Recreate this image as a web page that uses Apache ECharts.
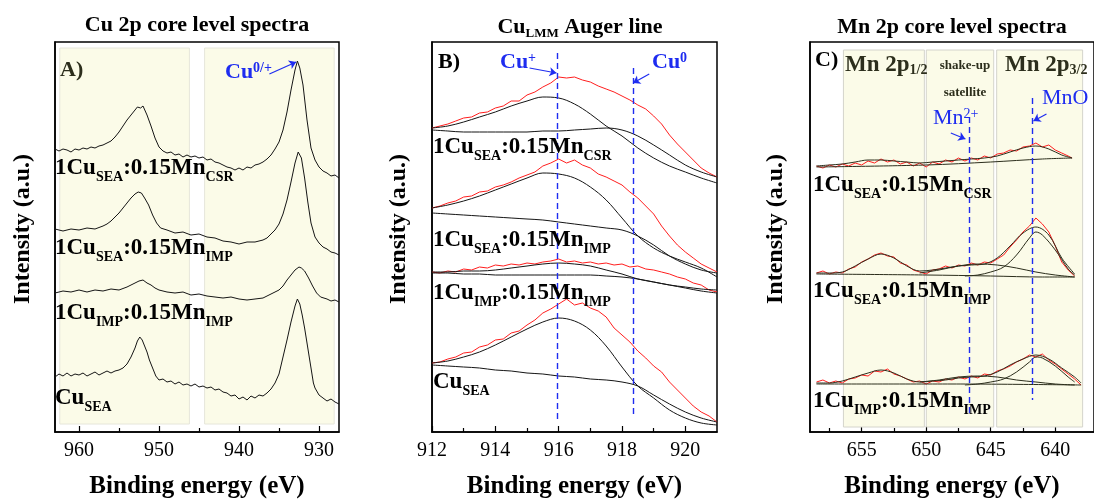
<!DOCTYPE html>
<html><head><meta charset="utf-8">
<script src="https://cdn.jsdelivr.net/npm/echarts@6/dist/echarts.min.js"></script>
<style>html,body{margin:0;padding:0;background:#fff}#c{width:1094px;height:504px}</style>
</head><body><div id="c"></div>
<script>
// ---------- Panel A: Cu 2p (binding energy eV, intensity a.u.) ----------
const A_CSR = [[963,283],[962.5,281],[962,283],[961.5,282],[961,280],[960.5,283],[960,282],[959.5,284],[959,283],[958.5,285],[958,284],[957.5,286],[957,287],[956.5,289],[956,291],[955.5,295],[955,300],[954.5,306],[954,312],[953.5,317],[953,322],[952.7,325],[952.3,324],[952,326],[951.5,317],[951,306],[950.5,294],[950,285],[949.5,281],[949,279],[948.5,280],[948,277],[947.5,278],[947,275],[946.5,277],[946,275],[945.5,276],[945,274],[944.5,275],[944,272],[943.5,273],[943,270],[942.5,269],[942,267],[941.5,265],[941,264],[940.5,262],[940,264],[939.5,262],[939,265],[938.5,264],[938,267],[937.5,268],[937,270],[936.5,273],[936,277],[935.5,283],[935,290],[934.5,302],[934,320],[933.5,342],[933,362],[932.7,371],[932.4,364],[932,347],[931.5,312],[931,284],[930.5,272],[930,265],[929.5,261],[929,259],[928.5,256],[928,257],[927.5,254]];
const A_SEA_IMP = [[963,203],[962,201],[961,203],[960,202],[959,204],[958,203],[957,206],[956.5,208],[956,211],[955.5,215],[955,219],[954.5,224],[954,229],[953.5,234],[953,238],[952.6,240],[952.2,239],[951.8,234],[951.3,227],[950.8,217],[950.3,209],[949.8,204],[949,202],[948,199],[947,200],[946,197],[945,198],[944,195],[943,194],[942,191],[941,190],[940,188],[939,190],[938,190],[937,192],[936.5,194],[936,198],[935.5,202],[935,208],[934.5,218],[934,232],[933.5,250],[933,269],[932.6,280],[932.2,274],[931.8,254],[931.4,230],[931,209],[930.5,195],[930,189],[929.5,185],[929,183],[928.5,180],[928,179],[927.5,177]];
const A_IMP_IMP = [[963,139],[962,141],[961,140],[960,142],[959,140],[958,142],[957,141],[956,143],[955,142],[954,145],[953.5,147],[953,149],[952.5,151],[952,152],[951.5,149],[951,147],[950.5,144],[950,142],[949,140],[948,139],[947,140],[946,137],[945,138],[944,136],[943,135],[942,134],[941,135],[940,133],[939,132],[938,133],[937,134],[936.5,136],[936,138],[935.5,140],[935,142],[934.5,146],[934,152],[933.5,157],[933,162],[932.5,165],[932.2,164],[931.8,161],[931.3,154],[930.8,146],[930.3,139],[929.8,135],[929,133],[928.5,131],[928,132],[927.5,130]];
const A_SEA = [[963,55],[962.5,58],[962,56],[961.5,59],[961,56],[960.5,58],[960,57],[959.5,59],[959,56],[958.5,58],[958,60],[957.5,57],[957,59],[956.5,61],[956,59],[955.5,61],[955,62],[954.5,64],[954,68],[953.5,75],[953,84],[952.7,91],[952.4,95],[952.1,92],[951.8,86],[951.5,80],[951.2,72],[950.8,64],[950.4,56],[950,52],[949.5,53],[949,50],[948.5,51],[948,48],[947.5,50],[947,47],[946.5,48],[946,46],[945.5,48],[945,45],[944.5,46],[944,44],[943.5,45],[943,42],[942.5,43],[942,40],[941.5,39],[941,36],[940.5,37],[940,33],[939.5,35],[939,32],[938.5,36],[938,34],[937.5,37],[937,36],[936.5,39],[936,43],[935.5,49],[935,58],[934.5,75],[934,92],[933.5,110],[933,126],[932.7,133],[932.4,128],[932.1,117],[931.8,104],[931.5,89],[931.2,74],[931,64],[930.7,49],[930.5,44],[930,37],[929.5,34],[929,31],[928.5,33],[928,30],[927.5,28]];
const A_ticks = [930, 940, 950, 960];
const A_minor = [935, 945, 955];

// ---------- Panel B: Cu LMM Auger ----------
const eB_raw = [912,912.25,912.5,912.75,913,913.25,913.5,913.75,914,914.25,914.5,914.75,915,915.25,915.5,915.75,916,916.25,916.5,916.75,917,917.25,917.5,917.75,918,918.25,918.5,918.75,919,919.25,919.5,919.75,920,920.25,920.5,920.75,921];
const eB_fit = [912,912.5,913,913.5,914,914.5,915,915.5,916,916.5,917,917.5,918,918.5,919,919.5,920,920.5,921];
const B_CSR_raw = [304,306,308,311,314,315,319,320,324,326,331,331,337,340,345,349,355,354,355,352,350,346,343,340,336,332,327,323,316,308,297,288,280,272,264,259,255];
const B_CSR_fit1 = [304,306,310,315,320,326,331,335,334,328,318,306,296,284,274,266,260,254,249];
const B_CSR_fit2 = [302,301,300,300,300,300,300,301,301,302,303,304,302,296,287,277,267,260,255];
const B_SEAIMP_raw = [224,226,229,231,235,236,240,241,245,247,250,254,257,260,266,269,273,269,272,267,264,258,255,251,247,240,234,226,218,206,196,187,180,174,168,164,160];
const B_SEAIMP_fit1 = [224,227,231,236,242,248,254,259,258,254,245,232,214,196,184,176,170,164,155];
const B_SEAIMP_fit2 = [219,218,217,216,215,214,213,212,210,208,206,204,202,196,187,176,168,162,159];
const B_IMPIMP_raw = [160,159,161,160,163,162,165,164,167,166,168,167,169,168,170,171,173,170,171,169,170,168,169,167,168,165,166,163,162,160,158,155,153,149,147,142,140];
const B_IMPIMP_fit1 = [160,160,161,161,162,164,166,168,169,168,166,162,158,153,150,147,144,141,139];
const B_IMPIMP_fit2 = [159,159,158,158,157,157,157,157,157,157,157,156,155,153,150,147,145,143,142];
const B_SEA_raw = [69,70,73,75,79,80,85,87,92,93,99,101,107,112,119,123,128,133,127,129,124,121,115,104,97,90,81,74,66,60,50,42,34,26,20,16,10];
const B_SEA_fit1 = [69,71,75,80,87,95,103,110,114,111,102,86,65,46,34,22,14,9,7];
const B_SEA_fit2 = [67,66,65,64,62,61,59,58,56,55,53,52,50,46,37,28,20,14,10];
const B_ticks = [912, 914, 916, 918, 920];
const B_minor = [913, 915, 917, 919];
const B_refLines = [915.95, 918.35]; // Cu+, Cu0

// ---------- Panel C: Mn 2p ----------
const eC1 = [658.5,658,657.5,657,656.5,656,655.5,655,654.5,654,653.5,653,652.5,652,651.5,651,650.5,650,649.5,649,648.5,648,647.5,647,646.5,646,645.5,645,644.5,644,643.5,643,642.5,642,641.5,641,640.5,640,639.5,639,638.7];
const eC2 = [658.5,658,657.5,657,656.5,656,655.5,655,654.5,654,653.5,653,652.5,652,651.5,651,650.5,650,649.5,649,648.5,648,647.5,647,646.5,646,645.5,645,644.5,644,643.5,643,642.5,642,641.5,641,640.5,640,639.5,639,638.5];
const eC3 = [658.5,658,657.5,657,656.5,656,655.5,655,654.5,654,653.5,653,652.5,652,651.5,651,650.5,650,649.5,649,648.5,648,647.5,647,646.5,646,645.5,645,644.5,644,643.5,643,642.5,642,641.5,641,640.5,640,639.5,639,638.5,638];
const C_CSR_raw = [266,264,267,265,268,266,269,267,271,269,273,270,272,268,270,266,269,265,270,268,272,270,274,271,274,272,276,274,278,279,282,281,285,286,289,285,287,282,279,276,274];
const C_SEAIMP_raw = [159,161,158,160,159,163,165,170,173,177,179,176,175,169,167,162,160,158,162,163,166,164,167,166,169,167,170,169,173,177,185,192,200,206,214,208,200,186,170,162,156];
const C_IMPIMP_raw = [50,52,49,51,49,53,54,57,56,61,60,63,58,56,53,50,51,48,51,50,53,52,55,53,56,54,58,57,61,63,66,70,73,77,75,78,72,68,63,58,53,47];
const eCe1 = [658.5,657.5,656.5,655.5,654.5,653.5,652.5,651.5,650.5,649.5,648.5,647.5,646.5,645.5,644.5,643.5,642.5,641.5,640.5,639.5,638.7];
const eCe2 = [658.5,657.5,656.5,655.5,654.5,653.5,652.5,651.5,650.5,649.5,648.5,647.5,646.5,645.5,644.5,643.5,642.5,641.5,640.5,639.5,638.5];
const eCe3 = [658.5,657.5,656.5,655.5,654.5,653.5,652.5,651.5,650.5,649.5,648.5,647.5,646.5,645.5,644.5,643.5,642.5,641.5,640.5,639.5,638.5,638];
const C_CSR_env = [266,267,268,270,272,272,271,270,269,270,271,272,273,274,276,280,284,286,283,277,274];
const C_SEAIMP_env = [159,159,160,166,173,178,174,166,161,162,164,166,167,168,174,186,199,205,197,174,158];
const C_IMPIMP_env = [49,49,51,55,59,62,59,53,50,51,52,54,55,56,60,67,73,77,73,64,55,49];
const C_CSR_base = [[658.5,265],[650,267],[645,270],[641,273],[638.7,274]];
const C_SEAIMP_base = [[658.5,158],[650,157],[645,156],[641,155],[638.5,155]];
const C_IMPIMP_base = [[658.5,48],[648,48],[638,47]];
const eC_sat = [650.5,649,647.5,646,644.5,643,641.5,640,638.5];
const C_SEAIMP_sat = [159,162,166,168,167,164,160,157,155];
const C_IMPIMP_sat = [50,52,55,56,55,52,50,48,47];
const eC_p32 = [647,646,645,644,643,642,641.5,641,640,639,638.5];
const C_SEAIMP_p32 = [156,157,160,165,177,194,200,197,182,163,157];
const C_IMPIMP_p32 = [47,48,50,53,60,70,75,74,66,55,50];
const C_ticks = [640, 645, 650, 655];
const C_minor = [642.5, 647.5, 652.5, 657.5];
const C_refLines = [646.65, 641.75]; // Mn2+, MnO

// ---------- build ----------
const FONT = "'Liberation Serif','Times New Roman',serif";
const RED = '#ff1e1e', BLK = '#151515', OLV = '#2c2e1c', BLUE = '#1e2cf0', SHADE = '#fbfbe8';
const zip = (xs, ys) => xs.map((x, i) => [x, ys[i]]);

function ln(p, data, color, smooth, w) {
  return {type: 'line', xAxisIndex: p, yAxisIndex: p, data, symbol: 'none', showSymbol: false,
    smooth: smooth ? 0.35 : false, silent: true, z: 3, lineStyle: {color, width: w || 1}};
}
function xMain(g, min, max, inv, ticks) {
  return {gridIndex: g, type: 'value', min, max, inverse: inv,
    axisLine: {onZero: false, lineStyle: {color: '#000', width: 1.5}},
    axisTick: {inside: true, length: 6, customValues: ticks, lineStyle: {color: '#000', width: 1.2}},
    axisLabel: {customValues: ticks, fontFamily: FONT, fontSize: 20, color: '#000', margin: 9},
    splitLine: {show: false},
    name: 'Binding energy (eV)', nameLocation: 'middle', nameGap: 42,
    nameTextStyle: {fontFamily: FONT, fontSize: 25, fontWeight: 'bold', color: '#000'}};
}
function xMinor(g, min, max, inv, ticks) {
  return {gridIndex: g, type: 'value', min, max, inverse: inv, position: 'bottom',
    axisLine: {show: false}, axisLabel: {show: false}, splitLine: {show: false},
    axisTick: {show: true, inside: true, length: 4, customValues: ticks, lineStyle: {color: '#000', width: 1.2}}};
}
function yAx(g) {
  return {gridIndex: g, type: 'value', min: 0, max: 390,
    axisLine: {show: true, onZero: false, lineStyle: {color: '#000', width: 1.5}},
    axisTick: {show: false}, axisLabel: {show: false}, splitLine: {show: false}};
}
function areas(p, ranges, top, bot, border) {
  return {type: 'line', xAxisIndex: p, yAxisIndex: p, data: [], silent: true, z: 1,
    markArea: {silent: true, itemStyle: {color: SHADE, borderColor: border, borderWidth: 1},
      data: ranges.map(r => [{coord: [r[0], top]}, {coord: [r[1], bot]}])}};
}
function marks(p, vlines, arrows) {
  return {type: 'line', xAxisIndex: p, yAxisIndex: p, data: [], silent: true, z: 4,
    markLine: {silent: true, symbol: 'none', label: {show: false},
      data: vlines.map(v => [{coord: [v[0], v[1]], lineStyle: {color: BLUE, width: 1.4, type: [6, 4]}},
                             {coord: [v[0], v[2]]}])
        .concat(arrows.map(a => [{coord: [a[0], a[1]], symbol: 'none', lineStyle: {color: BLUE, width: 1.2, type: 'solid'}},
                                 {coord: [a[2], a[3]], symbol: 'arrow', symbolSize: 7}]))}};
}

const series = [
  areas(0, [[962.4, 946.2], [944.3, 928.1]], 384, 8, '#e6e6da'),
  ln(0, A_CSR, BLK), ln(0, A_SEA_IMP, BLK), ln(0, A_IMP_IMP, BLK), ln(0, A_SEA, BLK),
  marks(0, [], [[936.2, 358, 932.85, 370]]),

  ln(1, zip(eB_raw, B_CSR_raw), RED), ln(1, zip(eB_fit, B_CSR_fit1), BLK, true), ln(1, zip(eB_fit, B_CSR_fit2), BLK, true),
  ln(1, zip(eB_raw, B_SEAIMP_raw), RED), ln(1, zip(eB_fit, B_SEAIMP_fit1), BLK, true), ln(1, zip(eB_fit, B_SEAIMP_fit2), BLK, true),
  ln(1, zip(eB_raw, B_IMPIMP_raw), RED), ln(1, zip(eB_fit, B_IMPIMP_fit1), BLK, true), ln(1, zip(eB_fit, B_IMPIMP_fit2), BLK, true),
  ln(1, zip(eB_raw, B_SEA_raw), RED), ln(1, zip(eB_fit, B_SEA_fit1), BLK, true), ln(1, zip(eB_fit, B_SEA_fit2), BLK, true),
  marks(1, [[B_refLines[0], 379, 12], [B_refLines[1], 364, 14]],
        [[915.08, 364, 915.93, 359], [918.86, 358, 918.35, 349]]),

  areas(2, [[656.41, 650.14], [649.99, 644.77], [644.54, 637.88]], 382, 5, '#d4d4cc'),
  ln(2, zip(eC1, C_CSR_raw), RED), ln(2, zip(eCe1, C_CSR_env), OLV, true), ln(2, C_CSR_base, OLV, true),
  ln(2, zip(eC2, C_SEAIMP_raw), RED), ln(2, zip(eCe2, C_SEAIMP_env), OLV, true), ln(2, C_SEAIMP_base, OLV, true),
  ln(2, zip(eC_sat, C_SEAIMP_sat), OLV, true), ln(2, zip(eC_p32, C_SEAIMP_p32), OLV, true),
  ln(2, zip(eC3, C_IMPIMP_raw), RED), ln(2, zip(eCe3, C_IMPIMP_env), OLV, true), ln(2, C_IMPIMP_base, OLV, true),
  ln(2, zip(eC_sat, C_IMPIMP_sat), OLV, true), ln(2, zip(eC_p32, C_IMPIMP_p32), OLV, true),
  marks(2, [[C_refLines[0], 315, 17], [C_refLines[1], 334, 32]],
        [[648.09, 299, 646.96, 293], [640.68, 318, 641.69, 311]])
];

// ---------- text ----------
const bm = (c) => ({fontFamily: FONT, fontWeight: 'bold', fontSize: 23, lineHeight: 26, verticalAlign: 'top', fill: c || '#000'});
const LBL = {m: bm(), s: {fontFamily: FONT, fontWeight: 'bold', fontSize: 14, lineHeight: 14, padding: [13, 0, 0, 0], verticalAlign: 'top', fill: '#000'}};
function label(x, cy, a, b, c, d) {
  return {type: 'text', x, y: cy - 9, z: 10, silent: true,
    style: {text: '{m|' + a + '}{s|' + b + '}{m|' + c + '}{s|' + d + '}', rich: LBL, align: 'left', verticalAlign: 'top'}};
}
function plain(x, y, text, size, weight, color, align, rot) {
  return {type: 'text', x, y, rotation: rot || 0, z: 10, silent: true,
    style: {text, fontFamily: FONT, fontSize: size, fontWeight: weight, fill: color, align: align || 'left', verticalAlign: 'middle'}};
}
function sup(x, yTop, a, b, size, weight, color, lh) {
  return {type: 'text', x, y: yTop, z: 10, silent: true,
    style: {text: '{m|' + a + '}{p|' + b + '}', align: 'left', verticalAlign: 'top',
      rich: {m: {fontFamily: FONT, fontWeight: weight, fontSize: size, lineHeight: lh, verticalAlign: 'top', fill: color},
             p: {fontFamily: FONT, fontWeight: weight, fontSize: 14, lineHeight: 13, verticalAlign: 'top', fill: color}}}};
}
function sub(x, yTop, a, b, size, subSize, pad, color, align) {
  return {type: 'text', x, y: yTop, z: 10, silent: true,
    style: {text: '{m|' + a + '}{s|' + b + '}', align: align || 'left', verticalAlign: 'top',
      rich: {m: {fontFamily: FONT, fontWeight: 'bold', fontSize: size, lineHeight: 2 * Math.round(size * 0.55), verticalAlign: 'top', fill: color},
             s: {fontFamily: FONT, fontWeight: 'bold', fontSize: subSize, lineHeight: subSize, padding: [pad, 0, 0, 0], verticalAlign: 'top', fill: color}}}};
}

const graphics = [
  plain(197, 25, 'Cu 2p core level spectra', 22, 'bold', '#000', 'center'),
  {type: 'text', x: 580, y: 16, z: 10, silent: true,
   style: {text: '{m|Cu}{s|LMM}{m| Auger line}', align: 'center', verticalAlign: 'top',
     rich: {m: {fontFamily: FONT, fontWeight: 'bold', fontSize: 22, lineHeight: 24, verticalAlign: 'top', fill: '#000'},
            s: {fontFamily: FONT, fontWeight: 'bold', fontSize: 13, lineHeight: 13, padding: [11, 0, 0, 0], verticalAlign: 'top', fill: '#000'}}}},
  plain(952, 27, 'Mn 2p core level spectra', 22, 'bold', '#000', 'center'),

  plain(23, 229, 'Intensity (a.u.)', 24, 'bold', '#000', 'center', Math.PI / 2),
  plain(399, 229, 'Intensity (a.u.)', 24, 'bold', '#000', 'center', Math.PI / 2),
  plain(776, 229, 'Intensity (a.u.)', 24, 'bold', '#000', 'center', Math.PI / 2),

  plain(60, 70, 'A)', 22, 'bold', OLV), plain(438, 62, 'B)', 22, 'bold', '#000'), plain(815, 60, 'C)', 22, 'bold', '#000'),

  label(55, 166, '1Cu', 'SEA', ':0.15Mn', 'CSR'),
  label(55, 246, '1Cu', 'SEA', ':0.15Mn', 'IMP'),
  label(55, 311, '1Cu', 'IMP', ':0.15Mn', 'IMP'),
  label(55, 396, 'Cu', 'SEA', '', ''),

  label(433, 145, '1Cu', 'SEA', ':0.15Mn', 'CSR'),
  label(433, 238, '1Cu', 'SEA', ':0.15Mn', 'IMP'),
  label(433, 291, '1Cu', 'IMP', ':0.15Mn', 'IMP'),
  label(433, 380, 'Cu', 'SEA', '', ''),

  label(813, 183, '1Cu', 'SEA', ':0.15Mn', 'CSR'),
  label(813, 289, '1Cu', 'SEA', ':0.15Mn', 'IMP'),
  label(813, 399, '1Cu', 'IMP', ':0.15Mn', 'IMP'),

  sup(225, 61, 'Cu', '0/+', 22, 'bold', BLUE, 24),
  sup(500, 51.5, 'Cu', '+', 22, 'bold', BLUE, 28),
  sup(652, 51.5, 'Cu', '0', 22, 'bold', BLUE, 28),
  sup(933, 107.5, 'Mn', '2+', 22, 'normal', BLUE, 24),
  plain(1042, 98.5, 'MnO', 22, 'normal', BLUE),

  sub(845, 54, 'Mn 2p', '1/2', 23, 14, 9, OLV),
  sub(1005, 54, 'Mn 2p', '3/2', 23, 14, 9, OLV),
  plain(965, 66, 'shake-up', 13, 'bold', OLV, 'center'),
  plain(965, 93, 'satellite', 13, 'bold', OLV, 'center')
];

const chart = echarts.init(document.getElementById('c'), null, {renderer: 'canvas'});
chart.setOption({
  animation: false,
  backgroundColor: '#fff',
  grid: [
    {left: 55, top: 42, width: 284, height: 390, show: true, borderColor: '#000', borderWidth: 1.5},
    {left: 432, top: 42, width: 285, height: 390, show: true, borderColor: '#000', borderWidth: 1.5},
    {left: 810, top: 42, width: 292, height: 390, show: true, borderColor: '#000', borderWidth: 1.5}
  ],
  xAxis: [
    xMain(0, 927.5, 963, true, A_ticks), xMain(1, 912, 921, false, B_ticks), xMain(2, 637, 659, true, C_ticks),
    xMinor(0, 927.5, 963, true, A_minor), xMinor(1, 912, 921, false, B_minor), xMinor(2, 637, 659, true, C_minor)
  ],
  yAxis: [yAx(0), yAx(1), yAx(2)],
  series,
  graphic: graphics
});
</script></body></html>
